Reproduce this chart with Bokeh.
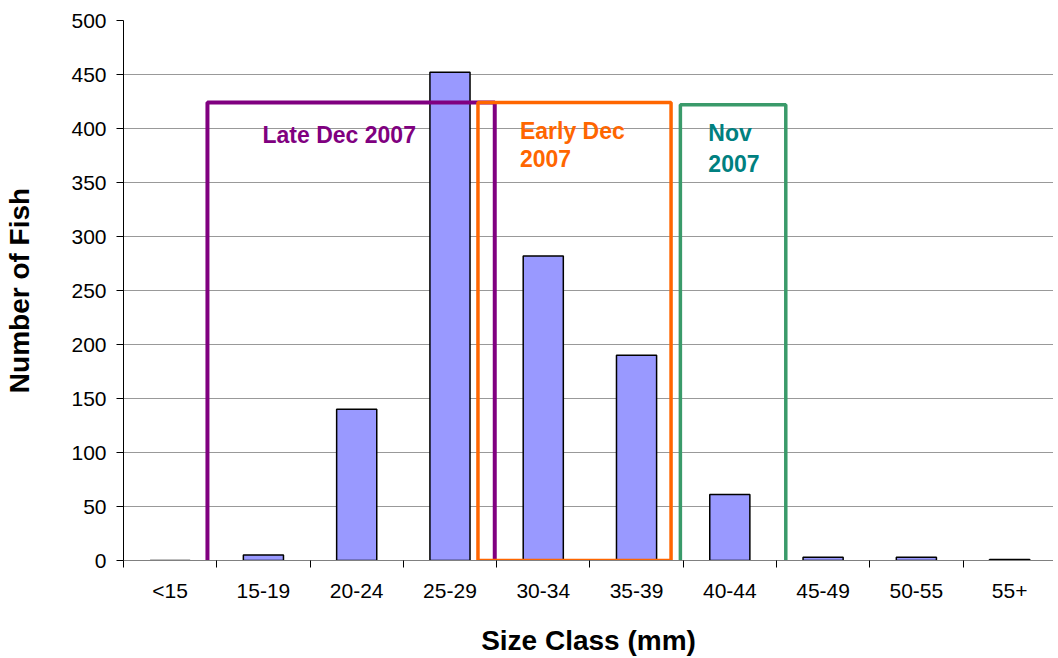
from bokeh.plotting import figure
from bokeh.models import Range1d, FixedTicker, ColumnDataSource
from bokeh.core.properties import value
from bokeh.embed import file_html
from bokeh.resources import INLINE

# ---- data ----
categories = ["<15", "15-19", "20-24", "25-29", "30-34", "35-39", "40-44", "45-49", "50-55", "55+"]
counts = [0, 5, 140, 452, 282, 190, 61, 3, 3, 1]
y_ticks = [0, 50, 100, 150, 200, 250, 300, 350, 400, 450, 500]

# annotation boxes (in category units / fish counts)
box_names = ["Late Dec 2007", "Early Dec 2007", "Nov 2007"]
box_left = [0.90, 3.80, 5.97]
box_right = [3.98, 5.87, 7.10]
box_bottom = [-2, 0, -3]
box_top = [424, 424, 422]
box_colors = ["#800080", "#FF6600", "#3A9A6A"]
box_widths = [4, 3.5, 3.5]

label_texts = ["Late Dec 2007", "Early Dec", "2007", "Nov", "2007"]
label_x = [1.49, 4.25, 4.25, 6.27, 6.27]
label_y = [394, 398, 372, 396, 368]
label_colors = ["#800080", "#FF6600", "#FF6600", "#008080", "#008080"]

FONT = "Liberation Sans"

p = figure(width=1053, height=658, output_backend="svg", toolbar_location=None,
           x_range=Range1d(0, 9.97), y_range=Range1d(0, 500))
p.min_border_left = 123
p.min_border_right = 0
p.min_border_top = 20
p.min_border_bottom = 97
p.outline_line_color = None
p.background_fill_color = "white"

centers = [i + 0.5 for i in range(len(categories))]
src = ColumnDataSource(dict(x=centers, top=counts))
p.vbar(x="x", top="top", bottom=0, width=0.43, source=src,
       fill_color="#9999FF", line_color="black", line_width=1.5)

for l, r, b, t, c, w in zip(box_left, box_right, box_bottom, box_top, box_colors, box_widths):
    p.quad(left=[l], right=[r], bottom=[b], top=[t], fill_color=None,
           line_color=c, line_width=w)

lsrc = ColumnDataSource(dict(x=label_x, y=label_y, t=label_texts, c=label_colors))
p.text(x="x", y="y", text="t", text_color="c", source=lsrc,
       text_font=value(FONT), text_font_style="bold", text_font_size="23px",
       text_align="left", text_baseline="middle")

# grid
p.xgrid.visible = False
p.ygrid.ticker = FixedTicker(ticks=y_ticks)
p.ygrid.grid_line_color = "#999999"
p.ygrid.grid_line_width = 1

# x axis
xa = p.xaxis[0]
xa.ticker = FixedTicker(ticks=centers, minor_ticks=list(range(0, 11)))
xa.major_label_overrides = {c: n for c, n in zip(centers, categories)}
xa.major_tick_line_color = None
xa.major_tick_out = 0
xa.major_tick_in = 0
xa.minor_tick_out = 7
xa.minor_tick_in = 0
xa.minor_tick_line_color = "black"
xa.axis_line_color = "#808080"
xa.major_label_text_font = FONT
xa.major_label_text_font_size = "21px"
xa.major_label_text_color = "black"
xa.major_label_text_line_height = 1.0
xa.major_label_standoff = 11
xa.axis_label = "Size Class (mm)"
xa.axis_label_text_font = FONT
xa.axis_label_text_font_style = "bold"
xa.axis_label_text_font_size = "28px"
xa.axis_label_text_color = "black"
xa.axis_label_text_line_height = 1.0
xa.axis_label_standoff = 20

# y axis
ya = p.yaxis[0]
ya.ticker = FixedTicker(ticks=y_ticks)
ya.minor_tick_line_color = None
ya.major_tick_out = 7
ya.major_tick_in = 0
ya.major_tick_line_color = "black"
ya.axis_line_color = "black"
ya.major_label_text_font = FONT
ya.major_label_text_font_size = "21px"
ya.major_label_text_color = "black"
ya.major_label_standoff = 10
ya.axis_label = "Number of Fish"
ya.axis_label_text_font = FONT
ya.axis_label_text_font_style = "bold"
ya.axis_label_text_font_size = "28px"
ya.axis_label_text_color = "black"
ya.axis_label_text_line_height = 1.0
ya.axis_label_standoff = 33

open("out.html", "w").write(file_html(p, INLINE))
